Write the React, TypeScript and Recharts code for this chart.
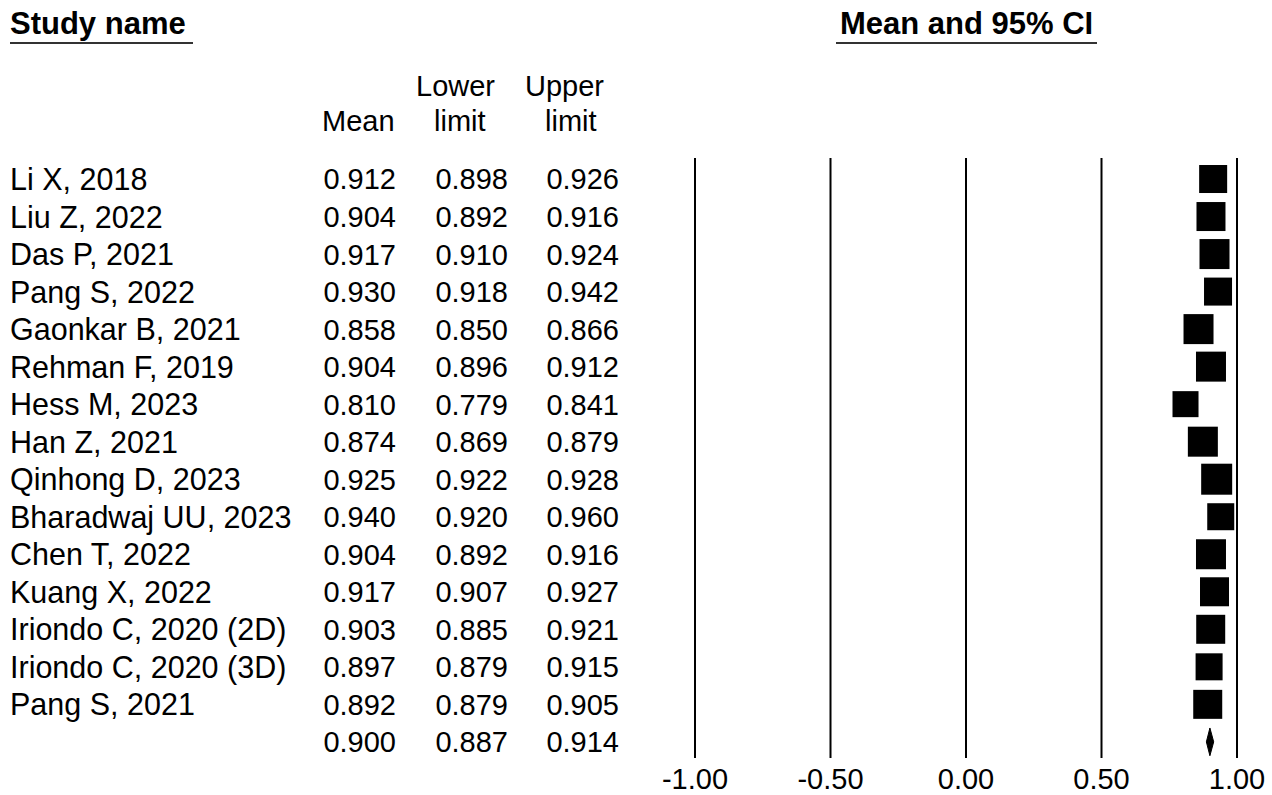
import React from "react";
import {
  Area,
  ComposedChart,
  ErrorBar,
  ReferenceLine,
  Scatter,
  XAxis,
  YAxis,
  ZAxis,
} from "recharts";

const STUDIES = [
  "Li X, 2018",
  "Liu Z, 2022",
  "Das P, 2021",
  "Pang S, 2022",
  "Gaonkar B, 2021",
  "Rehman F, 2019",
  "Hess M, 2023",
  "Han Z, 2021",
  "Qinhong D, 2023",
  "Bharadwaj UU, 2023",
  "Chen T, 2022",
  "Kuang X, 2022",
  "Iriondo C, 2020 (2D)",
  "Iriondo C, 2020 (3D)",
  "Pang S, 2021",
];
const MEANS = [0.912, 0.904, 0.917, 0.93, 0.858, 0.904, 0.81, 0.874, 0.925, 0.94, 0.904, 0.917, 0.903, 0.897, 0.892];
const LOWERS = [0.898, 0.892, 0.91, 0.918, 0.85, 0.896, 0.779, 0.869, 0.922, 0.92, 0.892, 0.907, 0.885, 0.879, 0.879];
const UPPERS = [0.926, 0.916, 0.924, 0.942, 0.866, 0.912, 0.841, 0.879, 0.928, 0.96, 0.916, 0.927, 0.921, 0.915, 0.905];
// relative weights (%) estimated from square sizes
const WEIGHTS = [6.26, 6.71, 7.18, 6.26, 7.18, 7.18, 5.4, 7.18, 7.67, 5.82, 7.18, 6.71, 6.71, 5.82, 6.71];

const SUMMARY = { mean: 0.9, lower: 0.887, upper: 0.914 };
const X_TICKS = [-1, -0.5, 0, 0.5, 1];

const FONT = "'Liberation Sans', Arial, sans-serif";
const W = 1272;
const H = 795;

const studyData = STUDIES.map((name, i) => ({
  name,
  row: i,
  x: MEANS[i],
  lower: LOWERS[i],
  upper: UPPERS[i],
  weight: WEIGHTS[i],
  err: [MEANS[i] - LOWERS[i], UPPERS[i] - MEANS[i]],
}));

const tableData = [
  ...studyData.map((d) => ({ name: d.name, row: d.row, x: d.x, lower: d.lower, upper: d.upper })),
  { name: "", row: STUDIES.length, x: SUMMARY.mean, lower: SUMMARY.lower, upper: SUMMARY.upper },
];

const sumRow = STUDIES.length;
const diamondData = [
  { x: SUMMARY.lower, band: [sumRow, sumRow] },
  { x: SUMMARY.mean, band: [sumRow - 0.37, sumRow + 0.37] },
  { x: SUMMARY.upper, band: [sumRow, sumRow] },
];

const SquareShape = (props: any) => {
  const { cx, cy, size } = props;
  const s = Math.sqrt(size);
  return <rect x={cx - s / 2} y={cy - s / 2} width={s} height={s} fill="#000" />;
};

const RowText = (props: any) => {
  const { cy, payload } = props;
  const style = { fontFamily: FONT, fontSize: 29, fill: "#000" };
  return (
    <g>
      <text x={10} y={cy} dy="0.36em" style={{ ...style, fontSize: 30.5 }}>{payload.name}</text>
      <text x={396} y={cy} dy="0.36em" textAnchor="end" style={style}>{payload.x.toFixed(3)}</text>
      <text x={508} y={cy} dy="0.36em" textAnchor="end" style={style}>{payload.lower.toFixed(3)}</text>
      <text x={619} y={cy} dy="0.36em" textAnchor="end" style={style}>{payload.upper.toFixed(3)}</text>
    </g>
  );
};

function Headers() {
  const bold = { fontFamily: FONT, fontSize: 31, fontWeight: 700, fill: "#000" };
  const reg = { fontFamily: FONT, fontSize: 29, fill: "#000" };
  return (
    <svg width={W} height={H} style={{ position: "absolute", left: 0, top: 0, pointerEvents: "none" }}>
      <text x={10} y={34} style={bold}>Study name</text>
      <line x1={10} x2={193} y1={43} y2={43} stroke="#333" strokeWidth={2} />
      <text x={840} y={34} style={bold}>Mean and 95% CI</text>
      <line x1={836} x2={1097} y1={43} y2={43} stroke="#333" strokeWidth={2} />
      <text x={322} y={131} style={reg}>Mean</text>
      <text x={416} y={96} style={reg}>Lower</text>
      <text x={434} y={131} style={reg}>limit</text>
      <text x={525} y={96} style={reg}>Upper</text>
      <text x={545} y={131} style={reg}>limit</text>
    </svg>
  );
}

export default function App() {
  return (
    <div style={{ position: "absolute", left: 0, top: 0, width: W, height: H, background: "#fff" }}>
      <ComposedChart width={W} height={H} margin={{ top: 158, right: 35, left: 695, bottom: 0 }}>
        <XAxis
          type="number"
          dataKey="x"
          domain={[-1, 1]}
          ticks={X_TICKS}
          axisLine={false}
          tickLine={false}
          tickMargin={4}
          height={37}
          tickFormatter={(v: number) => v.toFixed(2)}
          tick={{ fontSize: 29, fill: "#000", fontFamily: FONT }}
        />
        <YAxis type="number" dataKey="row" domain={[-0.56, 15.43]} reversed hide width={0} />
        <ZAxis type="number" dataKey="weight" domain={[0, Math.max(...WEIGHTS)]} range={[0, 961]} />
        {X_TICKS.map((t) => (
          <ReferenceLine key={t} x={t} stroke="#000" strokeWidth={2} />
        ))}
        <Scatter data={tableData} shape={RowText} isAnimationActive={false} />
        <Scatter data={studyData} shape={SquareShape} isAnimationActive={false}>
          <ErrorBar dataKey="err" direction="x" width={0} stroke="#000" strokeWidth={2} />
        </Scatter>
        <Area
          data={diamondData}
          dataKey="band"
          type="linear"
          fill="#000"
          fillOpacity={1}
          stroke="#000"
          strokeWidth={1}
          isAnimationActive={false}
          dot={false}
          activeDot={false}
        />
      </ComposedChart>
      <Headers />
    </div>
  );
}
